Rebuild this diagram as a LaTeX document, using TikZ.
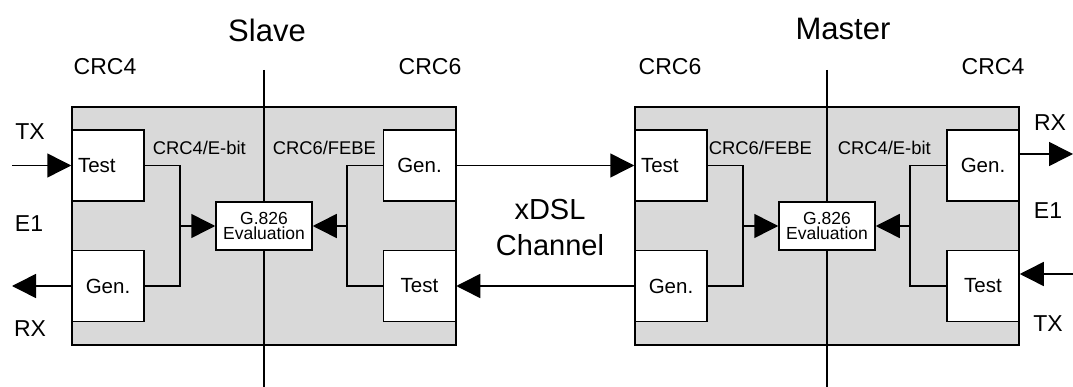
\documentclass[tikz,border=0pt]{standalone}
\usepackage{fontspec}
\setmainfont{Liberation Sans}
\usetikzlibrary{arrows.meta}
\definecolor{boxgray}{RGB}{217,217,217}
\begin{document}
\begin{tikzpicture}[x=1pt,y=-1pt,line width=1.5pt,
  panel/.style={draw,fill=boxgray,minimum width=384pt,minimum height=238pt,inner sep=0pt},
  blk/.style={draw,fill=white,minimum width=72pt,minimum height=71pt,inner sep=0pt,font=\fontsize{20.5}{24}\selectfont},
  blkl/.style={blk,text width=60pt,inner xsep=6pt,align=left},
  evalbox/.style={draw,fill=white,minimum width=96pt,minimum height=48pt,inner sep=0pt,align=center,font=\fontsize{17.5}{15.5}\selectfont},
  arr/.style={-{Triangle[length=24pt,width=24pt]}},
  lbl/.style={inner sep=0pt,anchor=base},
  big/.style={lbl,font=\fontsize{31}{36}\selectfont},
  mid/.style={lbl,font=\fontsize{23}{28}\selectfont},
  small/.style={lbl,anchor=base west,font=\fontsize{18.4}{22}\selectfont}
]
\useasboundingbox (0,0) rectangle (1073,387);
% panels
\node[panel] (spanel) at (264,226) {};
\node[panel] (mpanel) at (827,226) {};
% slave blocks
\node[blkl] (stest) at (108,165.5) {Test};
\node[blk] (sgenl) at (108,286) {Gen.};
\node[blk] (sgenr) at (419.5,165.5) {Gen.};
\node[blk] (stestr) at (419.5,286) {Test};
\node[evalbox] (seval) at (264,226) {G.826\\Evaluation};
% master blocks
\node[blkl] (mtest) at (671,165.5) {Test};
\node[blk] (mgen) at (671,286) {Gen.};
\node[blk] (mgenr) at (983,165.5) {Gen.};
\node[blk] (mtestr) at (983,286) {Test};
\node[evalbox] (meval) at (827,226) {G.826\\Evaluation};
% coordinates
\coordinate (stop) at (264,70);
\coordinate (sbot) at (264,387);
\coordinate (mtop) at (827,70);
\coordinate (mbot) at (827,387);
\coordinate (sjl) at (180,226);
\coordinate (sjr) at (347,226);
\coordinate (mjl) at (743,226);
\coordinate (mjr) at (910,226);
\coordinate (stx) at (12,165.5);
\coordinate (srx) at (12,286);
\coordinate (mrx) at (1073,154);
\coordinate (mtx) at (1073,274);
% divider lines
\draw (stop) -- (seval.north);
\draw (seval.south) -- (sbot);
\draw (mtop) -- (meval.north);
\draw (meval.south) -- (mbot);
% brackets
\draw (stest.east) -| (sjl) |- (sgenl.east);
\draw[arr] (sjl) -- (seval.west);
\draw (sgenr.west) -| (sjr) |- (stestr.west);
\draw[arr] (sjr) -- (seval.east);
\draw (mtest.east) -| (mjl) |- (mgen.east);
\draw[arr] (mjl) -- (meval.west);
\draw (mgenr.west) -| (mjr) |- (mtestr.west);
\draw[arr] (mjr) -- (meval.east);
% E1 arrows
\draw[arr] (stx) -- (stest.west);
\draw[arr] (sgenl.west) -- (srx);
\draw[arr] (mgenr.east|-mrx) -- (mrx);
\draw[arr] (mtx) -- (mtestr.east|-mtx);
% channel
\draw[arr] (sgenr.east) -- (mtest.west);
\draw[arr] (mgen.west) -- (stestr.east);
% labels
\node[big] (lslave) at (267,42) {Slave};
\node[big] (lmaster) at (843,40) {Master};
\node[mid] (lscrc4) at (105,75) {CRC4};
\node[mid] (lscrc6) at (430,75) {CRC6};
\node[mid] (lmcrc6) at (670,75) {CRC6};
\node[mid] (lmcrc4) at (993,75) {CRC4};
\node[mid] (lstx) at (30,140) {TX};
\node[mid] (lse1) at (29,232) {E1};
\node[mid] (lsrx) at (30,336) {RX};
\node[mid] (lmrx) at (1050,131) {RX};
\node[mid] (lme1) at (1048,219) {E1};
\node[mid] (lmtx) at (1048,331) {TX};
\node[small] (lsebit) at (152,155) {CRC4/E-bit};
\node[small] (lsfebe) at (272,155) {CRC6/FEBE};
\node[small] (lmfebe) at (708,155) {CRC6/FEBE};
\node[small] (lmebit) at (837,155) {CRC4/E-bit};
\node[inner sep=0pt,align=center,font=\fontsize{29}{36}\selectfont] (lchan) at (550,228) {xDSL\\Channel};
\end{tikzpicture}
\end{document}
